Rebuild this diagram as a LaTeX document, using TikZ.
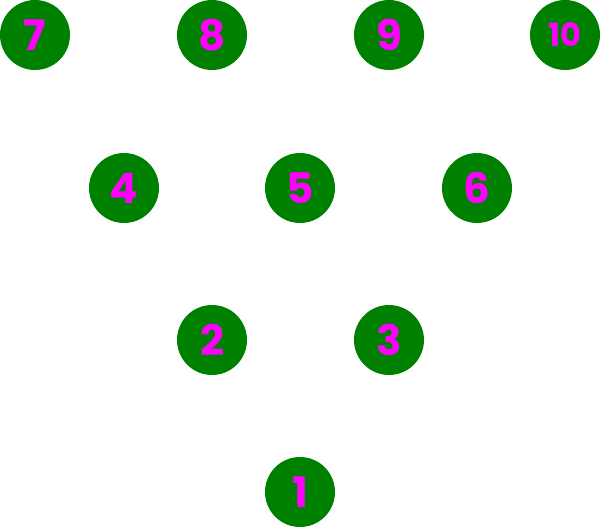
\documentclass[tikz,border=0pt]{standalone}
\usepackage{fontspec}
\setmainfont{Poppins}
\definecolor{pinmagenta}{RGB}{255,0,255}
\definecolor{pingreen}{RGB}{0,128,0}

\begin{document}
\begin{tikzpicture}
[
    x=1pt, y=-1pt,
    ball/.style={circle, fill=pingreen, minimum size=70pt, inner sep=0pt,
        text=pinmagenta, font=\fontsize{42}{42}\selectfont\bfseries},
    smallball/.style={ball, font=\fontsize{32}{32}\selectfont\bfseries},
]
\useasboundingbox (0,0) rectangle (600,528);
\node [ball] (p7) at (35,35) {7};
\node [ball] (p8) at (212,35) {8};
\node [ball] (p9) at (389,35) {9};
\node [smallball] (p10) at (565,35) {10};
\node [ball] (p4) at (124,188) {4};
\node [ball] (p5) at (300,188) {5};
\node [ball] (p6) at (477,188) {6};
\node [ball] (p2) at (212,340) {2};
\node [ball] (p3) at (389,340) {3};
\node [ball] (p1) at (300,492) {1};
\end{tikzpicture}
\end{document}
